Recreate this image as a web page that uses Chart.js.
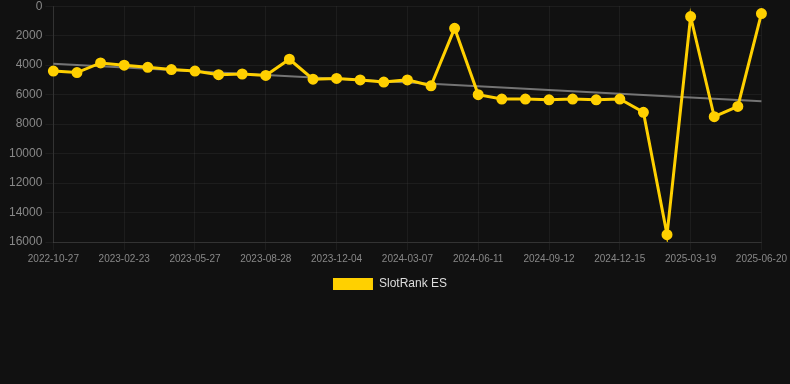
<!DOCTYPE html>
<html>
<head>
<meta charset="utf-8">
<script src="https://cdn.jsdelivr.net/npm/chart.js@4/dist/chart.umd.min.js"></script>
<style>
  html, body { margin: 0; padding: 0; background: #111111; overflow: hidden; }
  #wrap { position: relative; width: 790px; height: 304px; margin-top: -4px; }
</style>
</head>
<body>
<div id="wrap"><canvas id="chart"></canvas></div>
<script>
// dates of each sample (every third one is shown on the axis)
const dates = [
  '2022-10-27', '2022-12-06', '2023-01-14', '2023-02-23', '2023-03-27', '2023-04-26',
  '2023-05-27', '2023-06-27', '2023-07-28', '2023-08-28', '2023-09-28', '2023-11-01',
  '2023-12-04', '2024-01-04', '2024-02-05', '2024-03-07', '2024-04-08', '2024-05-10',
  '2024-06-11', '2024-07-12', '2024-08-12', '2024-09-12', '2024-10-13', '2024-11-14',
  '2024-12-15', '2025-01-15', '2025-02-16', '2025-03-19', '2025-04-19', '2025-05-20',
  '2025-06-20',
];
const rankES = [
  4400, 4500, 3850, 4000, 4150, 4300, 4400, 4650, 4600, 4700, 3600, 4950,
  4900, 5000, 5150, 5000, 5400, 1500, 6000, 6300, 6300, 6350, 6300, 6350,
  6300, 7200, 15500, 700, 7500, 6800, 500,
];
// trend line end points
const trendStart = 3900;
const trendEnd = 6450;
const yTicks = [0, 2000, 4000, 6000, 8000, 10000, 12000, 14000, 16000];

const trend = dates.map((_, i) => (i === 0 ? trendStart : i === dates.length - 1 ? trendEnd : null));

const font = { family: 'Arial, "Liberation Sans", sans-serif' };
const ctx = document.getElementById('chart').getContext('2d');

// nudge the legend a little to the left, like the original
const legendShift = {
  id: 'legendShift',
  afterLayout(chart) {
    chart.legend.left -= 7;
    chart.legend.right -= 7;
  },
};

new Chart(ctx, {
  type: 'line',
  data: {
    labels: dates,
    datasets: [
      {
        label: 'SlotRank ES',
        data: rankES,
        borderColor: '#ffd000',
        backgroundColor: '#ffd000',
        borderWidth: 3,
        pointRadius: 4,
        pointBackgroundColor: '#ffd000',
        pointBorderColor: '#ffd000',
        tension: 0,
        order: 1,
      },
      {
        label: 'trend',
        data: trend,
        spanGaps: true,
        borderColor: 'rgba(150, 150, 150, 0.75)',
        borderWidth: 2,
        pointRadius: 0,
        order: 2,
      },
    ],
  },
  options: {
    responsive: true,
    maintainAspectRatio: false,
    animation: false,
    layout: { padding: { left: 6, right: 2 } },
    plugins: {
      legend: {
        position: 'bottom',
        labels: {
          color: '#dddddd',
          font: { ...font, size: 12 },
          boxWidth: 40,
          boxHeight: 12,
          generateLabels: (chart) => Chart.defaults.plugins.legend.labels.generateLabels(chart)
            .filter((item) => item.text !== 'trend')
            .map((item) => ({ ...item, lineWidth: 0 })),
        },
      },
      tooltip: { enabled: false },
    },
    scales: {
      x: {
        grid: { color: 'rgba(255, 255, 255, 0.05)' },
        border: { color: 'rgba(255, 255, 255, 0.1)' },
        afterBuildTicks: (axis) => {
          axis.ticks = axis.ticks.filter((t, i) => i % 3 === 0);
        },
        ticks: {
          color: '#888888',
          font: { ...font, size: 10 },
          maxRotation: 0,
          autoSkip: false,
        },
      },
      y: {
        reverse: true,
        min: 0,
        max: 16000,
        grid: { color: 'rgba(255, 255, 255, 0.05)' },
        border: { color: 'rgba(255, 255, 255, 0.1)' },
        afterBuildTicks: (axis) => {
          axis.ticks = yTicks.map((v) => ({ value: v }));
        },
        ticks: {
          color: '#888888',
          font: { ...font, size: 12 },
          callback: (v) => String(v),
        },
      },
    },
  },
  plugins: [legendShift],
});
</script>
</body>
</html>
